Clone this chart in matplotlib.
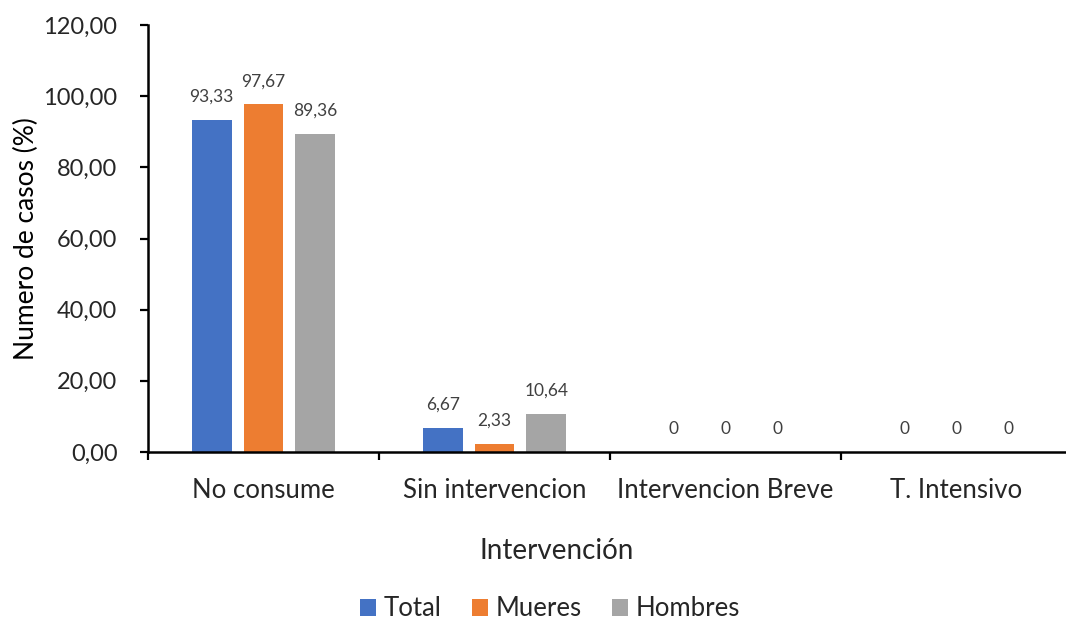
import matplotlib.pyplot as plt
import numpy as np

categorias = ['No consume', 'Sin intervencion', 'Intervencion Breve', 'T. Intensivo']
series = ['Total', 'Mueres', 'Hombres']
total = [93.33, 6.67, 0, 0]
mueres = [97.67, 2.33, 0, 0]
hombres = [89.36, 10.64, 0, 0]
colores = ['#4472C4', '#ED7D31', '#A5A5A5']

plt.rcParams['font.family'] = ['Lato', 'DejaVu Sans']

fig = plt.figure(figsize=(10.66, 6.21), dpi=100)
ax = fig.add_axes([148 / 1066, 1 - 452 / 621, (1072 - 148) / 1066, (452 - 25) / 621])

x = np.arange(len(categorias))
ancho = 0.173
desp = 0.224
barras = []
for i, (nombre, valores) in enumerate(zip(series, [total, mueres, hombres])):
    b = ax.bar(x + (i - 1) * desp, valores, ancho, color=colores[i], label=nombre)
    barras.append(b)
    for xi, v in zip(x + (i - 1) * desp, valores):
        txt = '0' if v == 0 else ('%.2f' % v).replace('.', ',')
        ax.annotate(txt, (xi, v), xytext=(0, 11), textcoords='offset points',
                    ha='center', va='bottom', fontsize=12.5, color='#404040')

ax.set_xlim(-0.5, 3.5)
ax.set_ylim(0, 120)
yt = np.arange(0, 121, 20)
ax.set_yticks(yt)
ax.set_yticklabels([('%.2f' % v).replace('.', ',') for v in yt], fontsize=17, color='#262626')
ax.set_xticks(x)
ax.set_xticklabels(categorias, fontsize=18.5, color='#262626')
ax.set_xticks(np.arange(-0.5, 3.6, 1), minor=True)
ax.tick_params(axis='x', which='major', length=0, pad=19)
ax.tick_params(axis='x', which='minor', length=6, width=1.6, direction='out')
ax.tick_params(axis='y', length=6, width=1.6, pad=16)

for s in ['top', 'right']:
    ax.spines[s].set_visible(False)
for s in ['left', 'bottom']:
    ax.spines[s].set_linewidth(1.8)
    ax.spines[s].set_color('black')

ax.set_ylabel('Numero de casos (%)', fontsize=19, color='black', labelpad=3)
fig.text(557 / 1066, 1 - 551 / 621, 'Intervención', ha='center', va='center', fontsize=20, color='#262626')

fig.legend(handles=barras, loc='center', bbox_to_anchor=(550 / 1066, 1 - 609 / 621), ncol=3,
           frameon=False, fontsize=18.5, handlelength=0.6, handleheight=0.6,
           handletextpad=0.3, columnspacing=1.2, labelcolor='#262626')

fig.savefig('out.png', dpi=100)
